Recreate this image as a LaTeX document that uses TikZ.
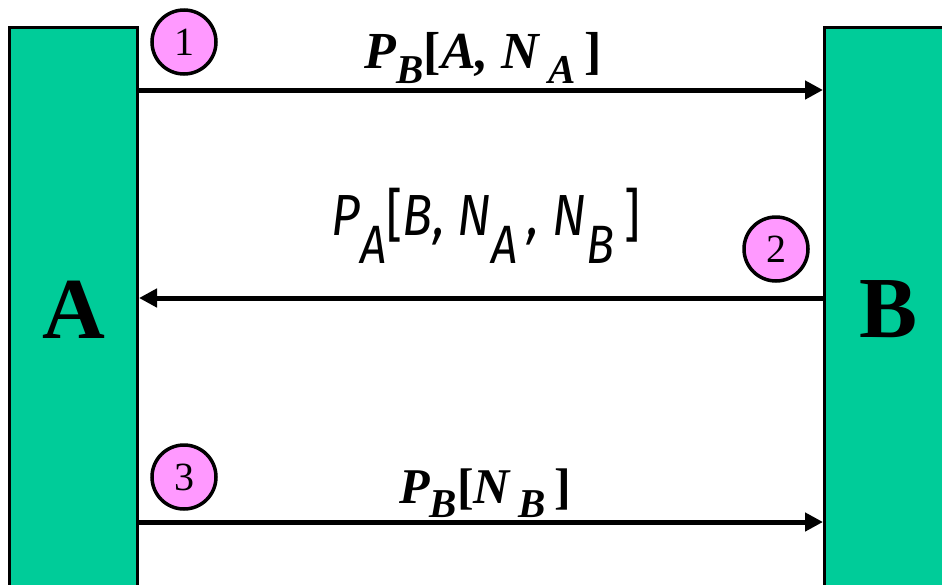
\documentclass[tikz,border=0pt]{standalone}
\usepackage{fontspec}
\setmainfont{Liberation Serif}
\newfontfamily\condfont[FakeStretch=0.86]{Fira Sans}
\usetikzlibrary{arrows.meta, positioning}
\definecolor{cbar}{HTML}{00CC99}
\definecolor{cpink}{HTML}{FF99FF}
% lowered subscript: drop, size, text
\newcommand{\lowsub}[3]{\raisebox{-#1pt}{\fontsize{#2}{#2}\selectfont #3}}
\tikzset{
  every picture/.style={x=1pt, y=-1pt},
  party/.style={draw=black, fill=cbar, line width=3pt, minimum width=128pt, minimum height=564pt,
    inner sep=0pt, font=\fontsize{87}{87}\selectfont\bfseries},
  num/.style={circle, draw=black, fill=cpink, line width=3.5pt, minimum size=64pt, inner sep=0pt,
    font=\fontsize{40}{40}\selectfont},
  msg/.style={-{Triangle[length=18pt, width=18pt]}, line width=5pt},
  lbl/.style={anchor=base, inner sep=0pt},
}

\begin{document}
\begin{tikzpicture}
  \useasboundingbox (0,0) rectangle (942,584);
  \node[party, anchor=north west] (barA) at (8,26) {A};
  \node[party, anchor=north west] (barB) at (823,26) {B};
  \coordinate (row1) at (0,90);
  \coordinate (row2) at (0,298);
  \coordinate (row3) at (0,522);
  \draw[msg] (barA.east |- row1) -- (barB.west |- row1);
  \draw[msg] (barB.west |- row2) -- (barA.east |- row2);
  \draw[msg] (barA.east |- row3) -- (barB.west |- row3);
  \node[num] (n1) at (184,42) {1};
  \node[num] (n2) at (776,249) {2};
  \node[num] (n3) at (184,477) {3};
  \node[lbl, font=\fontsize{52}{52}\selectfont\bfseries\itshape] (m1) at (483,68)
    {P\lowsub{15}{41}{B}\textup{[}A, N\,\lowsub{15}{41}{A}\,\textup{]}};
  \node[lbl, font=\fontsize{58}{58}\selectfont\condfont\itshape] (m2) at (486,235)
    {P\lowsub{28}{54}{A}\textup{[}B, N\lowsub{28}{54}{A}\,, N\lowsub{28}{54}{B}\,\textup{]}};
  \node[lbl, font=\fontsize{50}{50}\selectfont\bfseries\itshape] (m3) at (485,503)
    {P\lowsub{14}{41}{B}\textup{[}N\,\lowsub{14}{41}{B}\,\textup{]}};
\end{tikzpicture}
\end{document}
